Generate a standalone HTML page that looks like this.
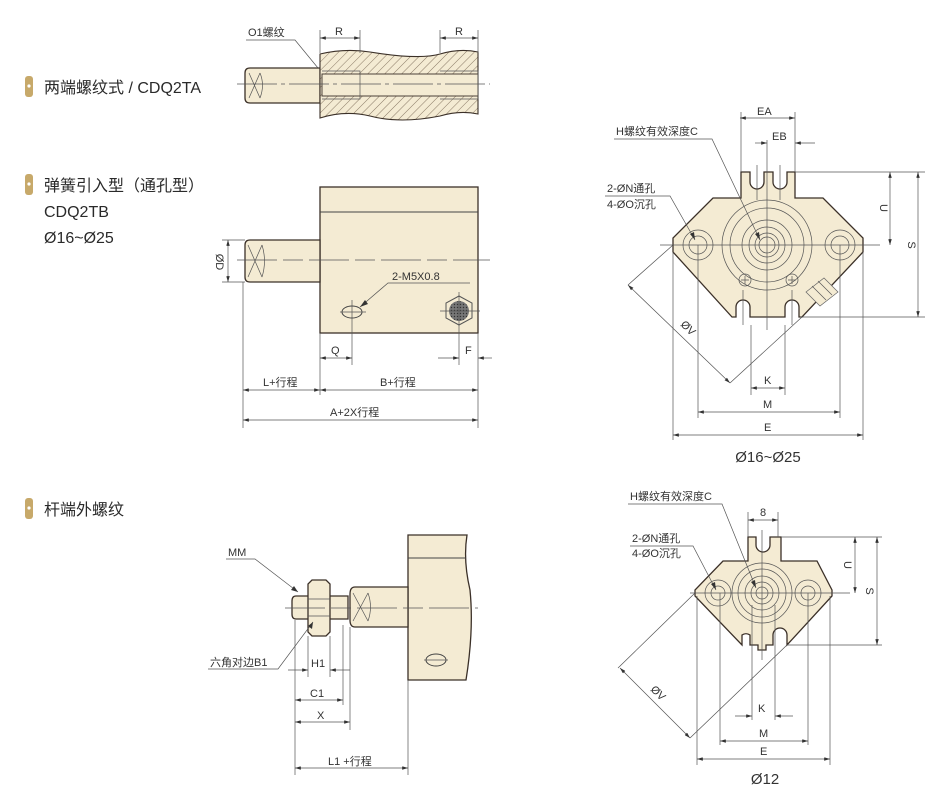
<!DOCTYPE html>
<html><head><meta charset="utf-8"><style>
html,body{margin:0;padding:0;background:#fff;}
svg{display:block;}
text{font-family:"Liberation Sans","Noto Sans CJK SC",sans-serif;fill:#333;}
.t{font-size:11px;}
.h{font-size:16px;fill:#2a2a2a;}
.ln{stroke:#555;stroke-width:0.7;fill:none;}
.th{stroke:#444;stroke-width:1.1;fill:none;}
.b{fill:#f4ebd3;stroke:#3b3028;stroke-width:1.3;}
</style></head><body>
<svg width="943" height="801" viewBox="0 0 943 801" xmlns="http://www.w3.org/2000/svg">
<defs>
<marker id="a" viewBox="0 0 10 6" refX="10" refY="3" markerWidth="9" markerHeight="5" orient="auto-start-reverse"><path d="M0,0L10,3L0,6z" fill="#333"/></marker>
<pattern id="hat" width="6" height="6" patternUnits="userSpaceOnUse" patternTransform="rotate(45)"><rect width="6" height="6" fill="#f4ebd3"/><line x1="0" y1="0" x2="0" y2="6" stroke="#8a7a66" stroke-width="1"/></pattern>
<pattern id="knurl" width="3" height="3" patternUnits="userSpaceOnUse"><rect width="3" height="3" fill="#777"/><circle cx="1.5" cy="1.5" r="0.7" fill="#333"/></pattern>
</defs>

<!-- headings -->
<rect x="25" y="76" width="8" height="21" rx="3" fill="#c7a96a"/><circle cx="29" cy="86" r="1.6" fill="#fff"/>
<text x="44" y="93" class="h">两端螺纹式 / CDQ2TA</text>
<rect x="25" y="174" width="8" height="21" rx="3" fill="#c7a96a"/><circle cx="29" cy="184" r="1.6" fill="#fff"/>
<text x="44" y="191" class="h">弹簧引入型（通孔型）</text>
<text x="44" y="217" class="h">CDQ2TB</text>
<text x="44" y="243" class="h">Ø16~Ø25</text>
<rect x="25" y="498" width="8" height="21" rx="3" fill="#c7a96a"/><circle cx="29" cy="508" r="1.6" fill="#fff"/>
<text x="44" y="515" class="h">杆端外螺纹</text>

<!-- ===== Fig 1 ===== -->
<path class="b" d="M250,68 H320 V103 H250 Q245,103 245,98 V73 Q245,68 250,68z"/>
<path class="ln" d="M249,73 L260,98 M260,73 L249,98 M260,73 Q265,85 260,98"/>
<path d="M320,54 Q345,48 370,52 Q420,60 440,54 Q460,48 478,52 V114 Q460,110 440,116 Q400,124 370,116 Q345,110 320,118 Z" fill="url(#hat)" stroke="#3b3028" stroke-width="1.1"/>
<rect x="322" y="74" width="156" height="22" fill="#f4ebd3" stroke="#3b3028" stroke-width="0.9"/>
<path class="ln" d="M322,71 H360 V99 H322 M440,71 H478 V99 H440"/>
<line class="ln" x1="237" y1="84" x2="490" y2="84" stroke-dasharray="40,4,4,4"/>
<path class="ln" d="M320,53 V30 M360,53 V30 M440,53 V30 M478,53 V30"/>
<line class="ln" x1="320" y1="38" x2="360" y2="38" marker-start="url(#a)" marker-end="url(#a)"/>
<line class="ln" x1="440" y1="38" x2="478" y2="38" marker-start="url(#a)" marker-end="url(#a)"/>
<text x="335" y="35" class="t">R</text><text x="455" y="35" class="t">R</text>
<text x="248" y="36" class="t">O1螺纹</text>
<path class="ln" d="M246,40 H295 L318,68"/>

<!-- ===== Fig 2 ===== -->
<rect class="b" x="320" y="187" width="158" height="146"/>
<line class="th" x1="320" y1="212" x2="478" y2="212"/>
<path class="b" d="M250,240 H320 V282 H250 Q245,282 245,277 V245 Q245,240 250,240z"/>
<path class="ln" d="M248,245 L262,277 M262,245 L248,277 M262,245 Q267,261 262,277"/>
<line class="ln" x1="237" y1="260" x2="490" y2="260" stroke-dasharray="40,6,20,6"/>
<path class="ln" d="M222,240 H245 M222,282 H245"/>
<line class="ln" x1="228" y1="240" x2="228" y2="282" marker-start="url(#a)" marker-end="url(#a)"/>
<text transform="translate(216,262) rotate(90)" class="t" text-anchor="middle">ØD</text>
<ellipse cx="352" cy="312" rx="10" ry="6" fill="none" stroke="#444"/>
<path class="ln" d="M340,312 H366 M352,300 V365"/>
<path class="ln" d="M360,307 L388,283 H470"/><path d="M360,307 l8,-3 l-3,-4z" fill="#333"/>
<text x="392" y="280" class="t">2-M5X0.8</text>
<polygon points="459,296 472,303 472,318 459,325 446,318 446,303" fill="#f4ebd3" stroke="#555"/>
<circle cx="459" cy="311" r="10" fill="url(#knurl)"/>
<path class="ln" d="M440,311 H480 M459,292 V365"/>
<path class="ln" d="M320,333 V395 M478,333 V428 M243,282 V428"/>
<line class="ln" x1="320" y1="358" x2="352" y2="358" marker-start="url(#a)" marker-end="url(#a)"/>
<text x="331" y="354" class="t">Q</text>
<line class="ln" x1="438" y1="358" x2="459" y2="358" marker-end="url(#a)"/>
<line class="ln" x1="492" y1="358" x2="478" y2="358" marker-end="url(#a)"/>
<text x="465" y="354" class="t">F</text>
<line class="ln" x1="243" y1="390" x2="320" y2="390" marker-start="url(#a)" marker-end="url(#a)"/>
<line class="ln" x1="320" y1="390" x2="478" y2="390" marker-start="url(#a)" marker-end="url(#a)"/>
<text x="263" y="386" class="t">L+行程</text><text x="380" y="386" class="t">B+行程</text>
<line class="ln" x1="243" y1="420" x2="478" y2="420" marker-start="url(#a)" marker-end="url(#a)"/>
<text x="330" y="416" class="t">A+2X行程</text>

<!-- ===== Fig 3 ===== -->
<path class="b" d="M408,535 H467 Q463,560 470,590 Q474,630 466,680 H408 Z"/>
<line class="th" x1="408" y1="558" x2="466" y2="558"/>
<path class="b" d="M355,587 H408 V627 H355 Q350,627 350,620 V594 Q350,587 355,587z"/>
<path class="ln" d="M353,593 L368,621 M368,593 L353,621 M368,593 Q373,607 368,621"/>
<path class="b" d="M296,596 H348 V619 H296 Q292,619 292,614 V601 Q292,596 296,596z"/>
<path class="b" d="M312,580 H326 L330,584 V632 L326,636 H312 L308,632 V584 Z"/>
<path class="ln" d="M308,599 H330 M308,616 H330"/>
<line class="ln" x1="285" y1="608" x2="478" y2="608" stroke-dasharray="40,6,20,6"/>
<ellipse cx="436" cy="660" rx="10" ry="6" fill="none" stroke="#444"/>
<path class="ln" d="M424,660 H448"/>
<text x="228" y="556" class="t">MM</text>
<path class="ln" d="M226,559 H255 L298,592"/><path d="M298,592 l-7,-2 l3,-4z" fill="#333"/>
<text x="210" y="666" class="t">六角对边B1</text>
<path class="ln" d="M208,669 H278 L313,622"/><path d="M313,622 l-1,7 l-4,-3z" fill="#333"/>
<path class="ln" d="M295,620 V775 M308,636 V677 M330,636 V677 M343,625 V705 M350,627 V730 M408,680 V775"/>
<line class="ln" x1="288" y1="670" x2="308" y2="670" marker-end="url(#a)"/>
<line class="ln" x1="350" y1="670" x2="330" y2="670" marker-end="url(#a)"/>
<text x="311" y="667" class="t">H1</text>
<line class="ln" x1="295" y1="700" x2="343" y2="700" marker-start="url(#a)" marker-end="url(#a)"/>
<text x="310" y="697" class="t">C1</text>
<line class="ln" x1="295" y1="722" x2="350" y2="722" marker-start="url(#a)" marker-end="url(#a)"/>
<text x="317" y="719" class="t">X</text>
<line class="ln" x1="295" y1="768" x2="408" y2="768" marker-start="url(#a)" marker-end="url(#a)"/>
<text x="328" y="765" class="t">L1 +行程</text>

<!-- ===== Fig 4 (Ø16~25) ===== -->
<path class="b" d="M741,172 H750 V182 A7,7 0 0 0 764,182 V172 H773 V182 A7,7 0 0 0 787,182 V172 H795 V198 H823 L863,238 V252 L802,317 H799 V307 A7,7 0 0 0 785,307 V317 H750 V307 A7,7 0 0 0 736,307 V317 H732 L673,252 V238 L713,198 H741 Z"/>
<g class="ln">
<circle cx="767" cy="245" r="45"/><circle cx="767" cy="245" r="37"/><circle cx="767" cy="245" r="25"/><circle cx="767" cy="245" r="18"/><circle cx="767" cy="245" r="12"/><circle cx="767" cy="245" r="8"/>
<circle cx="698" cy="245" r="15"/><circle cx="698" cy="245" r="9"/>
<circle cx="840" cy="245" r="15"/><circle cx="840" cy="245" r="9"/>
<circle cx="745" cy="280" r="6"/><circle cx="792" cy="280" r="6"/>
<path d="M741,280h8M745,276v8M788,280h8M792,276v8"/>
<line x1="660" y1="245" x2="880" y2="245"/>
<line x1="767" y1="140" x2="767" y2="330"/>
<path d="M757,165 V200 M780,165 V200 M743,290 V325 M792,290 V325"/>
<path d="M741,172 V112 M795,172 V112 M795,172 H925 M800,317 H925"/>
<path d="M673,252 V440 M863,252 V440 M698,245 V418 M840,245 V418 M751,325 V395 M785,325 V395"/>
<path d="M673,245 L628,285 M802,317 L730,383"/>
</g>
<polygon points="806,292 824,278 838,292 820,306" fill="#f4ebd3" stroke="#666" stroke-width="0.7"/>
<path class="ln" d="M812,286 l14,14 M818,281 l14,14"/>
<line class="ln" x1="740" y1="118" x2="795" y2="118" marker-start="url(#a)" marker-end="url(#a)"/>
<text x="757" y="115" class="t">EA</text>
<line class="ln" x1="755" y1="143" x2="767" y2="143" marker-end="url(#a)"/>
<line class="ln" x1="815" y1="143" x2="795" y2="143" marker-end="url(#a)"/>
<text x="772" y="140" class="t">EB</text>
<line class="ln" x1="890" y1="172" x2="890" y2="245" marker-start="url(#a)" marker-end="url(#a)"/>
<text transform="translate(880,208) rotate(90)" class="t" text-anchor="middle">U</text>
<line class="ln" x1="918" y1="172" x2="918" y2="317" marker-start="url(#a)" marker-end="url(#a)"/>
<text transform="translate(908,245) rotate(90)" class="t" text-anchor="middle">S</text>
<line class="ln" x1="628" y1="285" x2="730" y2="383" marker-start="url(#a)" marker-end="url(#a)"/>
<text transform="translate(680,325) rotate(45)" class="t">ØV</text>
<line class="ln" x1="751" y1="388" x2="785" y2="388" marker-start="url(#a)" marker-end="url(#a)"/>
<text x="764" y="384" class="t">K</text>
<line class="ln" x1="698" y1="412" x2="840" y2="412" marker-start="url(#a)" marker-end="url(#a)"/>
<text x="763" y="408" class="t">M</text>
<line class="ln" x1="673" y1="435" x2="863" y2="435" marker-start="url(#a)" marker-end="url(#a)"/>
<text x="764" y="431" class="t">E</text>
<text x="768" y="462" text-anchor="middle" style="font-size:15px">Ø16~Ø25</text>
<text x="616" y="135" class="t">H螺纹有效深度C</text>
<path class="ln" d="M614,139 H712 L760,240"/><path d="M760,240 l-5,-6 l4,-2z" fill="#333"/>
<text x="607" y="192" class="t">2-ØN通孔</text><text x="607" y="208" class="t">4-ØO沉孔</text>
<path class="ln" d="M605,196 H670 L695,240"/><path d="M695,240 l-5,-6 l4,-2z" fill="#333"/>

<!-- ===== Fig 5 (Ø12) ===== -->
<path class="b" d="M748,537 H756 V545 A7,7 0 0 0 770,545 V537 H781 V561 H817 L832,590 V596 L787,645 V635 A7,7 0 0 0 773,635 V645 H766 V650 H758 V645 H750 V635 A7,7 0 0 0 742,635 V645 L695,596 V590 L723,561 H748 Z"/>
<g class="ln">
<circle cx="762" cy="593" r="30"/><circle cx="762" cy="593" r="24"/><circle cx="762" cy="593" r="17"/><circle cx="762" cy="593" r="11"/><circle cx="762" cy="593" r="6"/>
<circle cx="718" cy="593" r="13"/><circle cx="718" cy="593" r="7"/>
<circle cx="808" cy="593" r="13"/><circle cx="808" cy="593" r="7"/>
<line x1="690" y1="593" x2="850" y2="593"/>
<line x1="762" y1="530" x2="762" y2="660"/>
<path d="M748,537 V512 M778,537 V512 M781,537 H882 M787,645 H882"/>
<path d="M697,596 V765 M830,596 V765 M720,593 V745 M808,593 V745 M752,605 V720 M775,605 V720"/>
<path d="M695,593 L618,668 M787,645 L690,738"/>
</g>
<line class="ln" x1="748" y1="520" x2="778" y2="520" marker-start="url(#a)" marker-end="url(#a)"/>
<text x="760" y="516" class="t">8</text>
<line class="ln" x1="855" y1="537" x2="855" y2="593" marker-start="url(#a)" marker-end="url(#a)"/>
<text transform="translate(844,565) rotate(90)" class="t" text-anchor="middle">U</text>
<line class="ln" x1="877" y1="537" x2="877" y2="645" marker-start="url(#a)" marker-end="url(#a)"/>
<text transform="translate(866,591) rotate(90)" class="t" text-anchor="middle">S</text>
<line class="ln" x1="620" y1="668" x2="690" y2="738" marker-start="url(#a)" marker-end="url(#a)"/>
<text transform="translate(650,690) rotate(45)" class="t">ØV</text>
<line class="ln" x1="735" y1="716" x2="752" y2="716" marker-end="url(#a)"/>
<line class="ln" x1="793" y1="716" x2="775" y2="716" marker-end="url(#a)"/>
<text x="758" y="712" class="t">K</text>
<line class="ln" x1="720" y1="741" x2="808" y2="741" marker-start="url(#a)" marker-end="url(#a)"/>
<text x="759" y="737" class="t">M</text>
<line class="ln" x1="697" y1="759" x2="830" y2="759" marker-start="url(#a)" marker-end="url(#a)"/>
<text x="760" y="755" class="t">E</text>
<text x="765" y="784" text-anchor="middle" style="font-size:15px">Ø12</text>
<text x="630" y="500" class="t">H螺纹有效深度C</text>
<path class="ln" d="M628,504 H722 L756,588"/><path d="M756,588 l-5,-6 l4,-2z" fill="#333"/>
<text x="632" y="542" class="t">2-ØN通孔</text><text x="632" y="557" class="t">4-ØO沉孔</text>
<path class="ln" d="M630,546 H693 L716,590"/><path d="M716,590 l-5,-6 l4,-2z" fill="#333"/>
</svg>
</body></html>
